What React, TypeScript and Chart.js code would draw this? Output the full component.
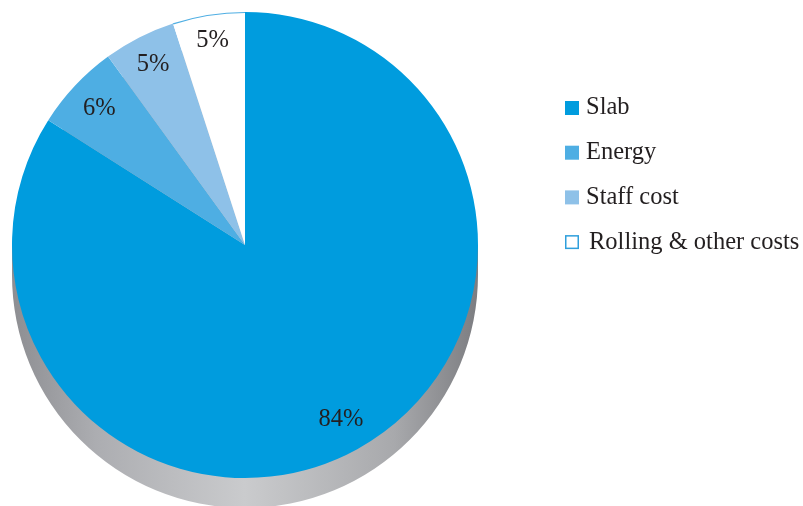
import React, { useEffect, useRef } from "react";
import { Chart, registerables } from "chart.js";

Chart.register(...registerables);

const categories = ["Slab", "Energy", "Staff cost", "Rolling & other costs"];
const shares = [84, 6, 5, 5];
const shareLabels = ["84%", "6%", "5%", "5%"];
const fillColors = ["#009cde", "#4eaee3", "#8ec1e8", "#ffffff"];
const rimColors = ["", "", "", "#4eaee3"];

const FONT = "24.5px 'Liberation Serif', 'DejaVu Serif', serif";
const TEXT = "#231f20";

const shadowPlugin = {
  id: "shadow3d",
  beforeDatasetsDraw(chart: any) {
    const arc = chart.getDatasetMeta(0).data[0];
    if (!arc) return;
    const { x, y, outerRadius: r } = arc.getProps(["x", "y", "outerRadius"], true);
    const depth = 30;
    const ctx = chart.ctx;
    const g = ctx.createLinearGradient(x - r, 0, x + r, 0);
    g.addColorStop(0, "#8d8e92");
    g.addColorStop(0.18, "#acadb1");
    g.addColorStop(0.5, "#cacbcd");
    g.addColorStop(0.82, "#a8a9ac");
    g.addColorStop(1, "#7c7d81");
    ctx.save();
    ctx.fillStyle = g;
    ctx.beginPath();
    ctx.rect(x - r, y, 2 * r, depth);
    ctx.arc(x, y + depth, r, 0, Math.PI * 2);
    ctx.fill();
    ctx.restore();
  },
};

const labelPlugin = {
  id: "sliceLabels",
  afterDatasetsDraw(chart: any) {
    const ctx = chart.ctx;
    const meta = chart.getDatasetMeta(0);
    ctx.save();
    // rim line along the outer arc of outlined slices
    meta.data.forEach((el: any, i: number) => {
      if (!rimColors[i]) return;
      const { x, y, startAngle, endAngle, outerRadius } = el.getProps(
        ["x", "y", "startAngle", "endAngle", "outerRadius"],
        true
      );
      ctx.beginPath();
      ctx.arc(x, y, outerRadius - 0.5, startAngle, endAngle);
      ctx.strokeStyle = rimColors[i];
      ctx.lineWidth = 1.2;
      ctx.stroke();
    });
    ctx.font = FONT;
    ctx.fillStyle = TEXT;
    ctx.textAlign = "center";
    ctx.textBaseline = "middle";
    meta.data.forEach((el: any, i: number) => {
      const { x, y, startAngle, endAngle, outerRadius } = el.getProps(
        ["x", "y", "startAngle", "endAngle", "outerRadius"],
        true
      );
      const a = (startAngle + endAngle) / 2;
      const ux = Math.cos(a);
      const uy = Math.sin(a);
      const w = ctx.measureText(shareLabels[i]).width;
      const hw = w / 2;
      const hh = 9;
      const reach = Math.abs(ux) * hw + Math.abs(uy) * hh;
      const d = outerRadius - 15 - reach;
      ctx.fillText(shareLabels[i], x + ux * d, y + uy * d);
    });
    ctx.restore();
  },
};

const legendPlugin = {
  id: "sideLegend",
  afterDraw(chart: any) {
    const ctx = chart.ctx;
    const left = 565;
    const top = 108;
    const step = 44.7;
    const box = 14;
    ctx.save();
    ctx.font = FONT;
    ctx.textBaseline = "middle";
    categories.forEach((c, i) => {
      const cy = top + i * step;
      if (fillColors[i] === "#ffffff") {
        ctx.fillStyle = "#ffffff";
        ctx.fillRect(left, cy - box / 2, box, box);
        ctx.strokeStyle = "#2f9fdc";
        ctx.lineWidth = 1.5;
        ctx.strokeRect(left + 0.75, cy - box / 2 + 0.75, box - 1.5, box - 1.5);
      } else {
        ctx.fillStyle = fillColors[i];
        ctx.fillRect(left, cy - box / 2, box, box);
      }
      ctx.fillStyle = TEXT;
      ctx.fillText(c, left + box + 7 + (i === 3 ? 3 : 0), cy);
    });
    ctx.restore();
  },
};

export default function App() {
  const ref = useRef<HTMLCanvasElement | null>(null);
  useEffect(() => {
    if (!ref.current) return;
    const chart = new Chart(ref.current, {
      type: "pie",
      data: {
        labels: categories,
        datasets: [
          {
            data: shares,
            backgroundColor: fillColors,
            borderWidth: 0,
          },
        ],
      },
      options: {
        animation: false,
        responsive: true,
        maintainAspectRatio: false,
        layout: { padding: { left: 12, top: 12, right: 325, bottom: 28 } },
        plugins: {
          legend: { display: false },
          tooltip: { enabled: false },
        },
      },
      plugins: [shadowPlugin, labelPlugin, legendPlugin],
    });
    return () => chart.destroy();
  }, []);
  return (
    <div
      style={{
        position: "absolute",
        left: 0,
        top: 0,
        width: 803,
        height: 506,
        background: "#ffffff",
        overflow: "hidden",
      }}
    >
      <canvas ref={ref} />
    </div>
  );
}
